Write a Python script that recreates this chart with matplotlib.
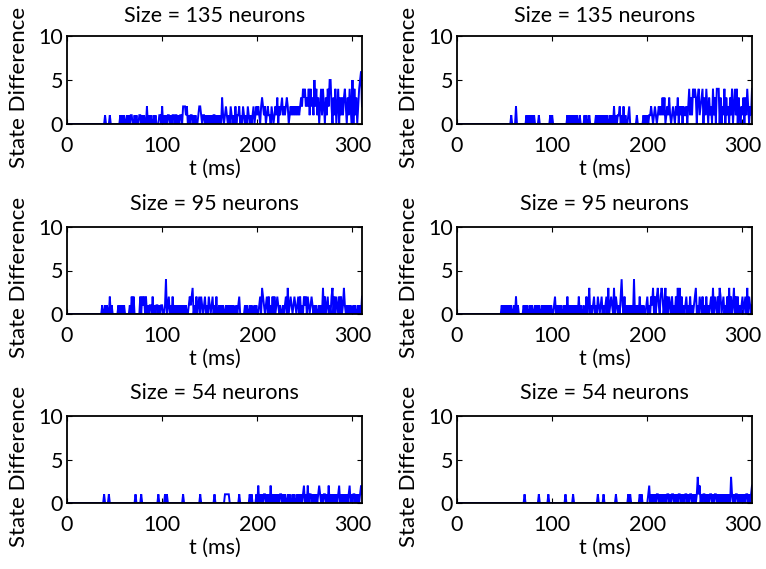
import numpy as np
import matplotlib
matplotlib.use("Agg")
import matplotlib.pyplot as plt

plt.rcParams['font.family'] = ['Lato', 'DejaVu Sans']

# State difference per millisecond (one digit per ms, t = 0 .. 310)
diff_135_a = (
    "0000000000" "0000000000" "0000000000" "0000000000"
    "1000010000" "0000001010" "1001010110" "0101001101" "0100201010" "0101000110"
    "2010101101" "0110110101" "1022212010" "1101010012" "2101101010" "1010110101"
    "0103101210" "1021010201" "1201021010" "2101012012" "1210232120" "1211021012"
    "1302123121" "2320121212" "1212123243" "4232414231" "5241302414" "2031425520"
    "3140240313" "1342031420" "50413024562"
)
diff_135_b = (
    "0000000000" "0000000000" "0000000000" "0000000000" "0000000000"
    "0000000100" "0020000000" "0001010101" "0100001000" "0000000010"
    "1000000000" "0000001010" "1010101001" "0000101001" "0000001010" "1010101010"
    "0101020101" "1201020100" "1200000001" "0000001010" "1011210121" "0121213130"
    "1213101210" "2130212021" "1202413143" "4303412340" "3142031204" "1304440302"
    "1403120314" "0241403102" "13031420214"
)
diff_95_a = (
    "0000000000" "0000000000" "0000000000"
    "0000000100" "1010020100" "0000101010" "1000001020" "2000000202" "1202010110"
    "2010110101" "1001401201" "0201010101" "0101010012" "1230102012" "0210120102"
    "1012010200" "1010100101" "0101010010" "1200000101" "0010100101" "0012032101"
    "2020102020" "1210100101" "2030121012" "1012020102" "1202101210" "1010010103"
    "0201201023" "0202102020" "1310101010" "01010010102"
)
diff_95_b = (
    "0000000000" "0000000000" "0000000000" "0000000000"
    "0000000101" "0101010100" "1020100000" "1010100101" "0010101001" "0101010101"
    "0012010101" "0010102010" "1010101020" "1001002013" "0101201021" "0120101203"
    "0121030210" "1024102010" "1010104010" "1020101001" "2010213020" "2310232013"
    "0202102010" "2030302010" "1201020101" "2301021020" "1020101203" "0210203201"
    "2010203020" "1302020101" "20120302101"
)
diff_54_a = (
    "0000000000" "0000000000" "0000000000"
    "0000000001" "0000100000" "0000000000" "0000000000" "0010000010" "0000000000"
    "0000001000" "0001010000" "0000000000" "0010000000" "0000000000" "1000000000"
    "0000010000" "0000001111" "1000000000" "0100000000" "0010100001" "0201010110"
    "1010201010" "1010110101" "0010100101" "0010101012" "0102011010" "1010121010"
    "1101020101" "0101012010" "1010101201" "01101010121"
)
diff_54_b = (
    "0000000000" "0000000000" "0000000000" "0000000000" "0000000000" "0000000000"
    "0000000000"
    "0100000000" "0000001000" "0000001000" "0000000000" "0000100000" "0010000000"
    "0000000000" "0000000010" "0000100000" "0000000100" "0000000000" "1010000000"
    "0010100000" "0120101010" "1101010101" "0110101101" "0101101010" "1101011010"
    "1013120101" "1010101101" "0110101010" "1010101031" "0101101010" "10101101012"
)

sizes = [135, 95, 54]
series = [[diff_135_a, diff_135_b], [diff_95_a, diff_95_b], [diff_54_a, diff_54_b]]
x_ticks = [0, 100, 200, 300]
y_ticks = [0, 5, 10]

W, H = 766, 569
fig = plt.figure(figsize=(W / 100, H / 100), dpi=100)

col_left = [67, 457]
col_width = 295
row_top = [36, 227, 416]
row_height = [88, 87, 87]
title_pad = [10, 12, 12]

for r in range(3):
    for c in range(2):
        left = col_left[c] / W
        bottom = 1 - (row_top[r] + row_height[r]) / H
        ax = fig.add_axes([left, bottom, col_width / W, row_height[r] / H])
        vals = np.array([int(ch) for ch in series[r][c]])
        t = np.arange(len(vals))
        ax.plot(t, vals, color=(0, 0, 1), lw=1.4, solid_joinstyle='miter')
        ax.set_xlim(0, 310)
        ax.set_ylim(0, 10)
        ax.set_xticks(x_ticks)
        ax.set_yticks(y_ticks)
        ax.tick_params(direction='in', top=True, right=True, length=3.5,
                       width=0.8, labelsize=15.5, colors='black')
        ax.tick_params(axis='x', pad=8.5)
        ax.tick_params(axis='y', pad=3)
        for s in ax.spines.values():
            s.set_linewidth(1.3)
        ax.set_title(f"Size = {sizes[r]} neurons", fontsize=15.5, pad=title_pad[r])
        ax.set_xlabel("t (ms)", fontsize=15.5)
        ax.set_ylabel("State Difference", fontsize=16)
        ax.xaxis.set_label_coords(0.5, -0.40)
        ax.yaxis.set_label_coords(-0.128, 0.42)

fig.savefig("out.png", dpi=100)
